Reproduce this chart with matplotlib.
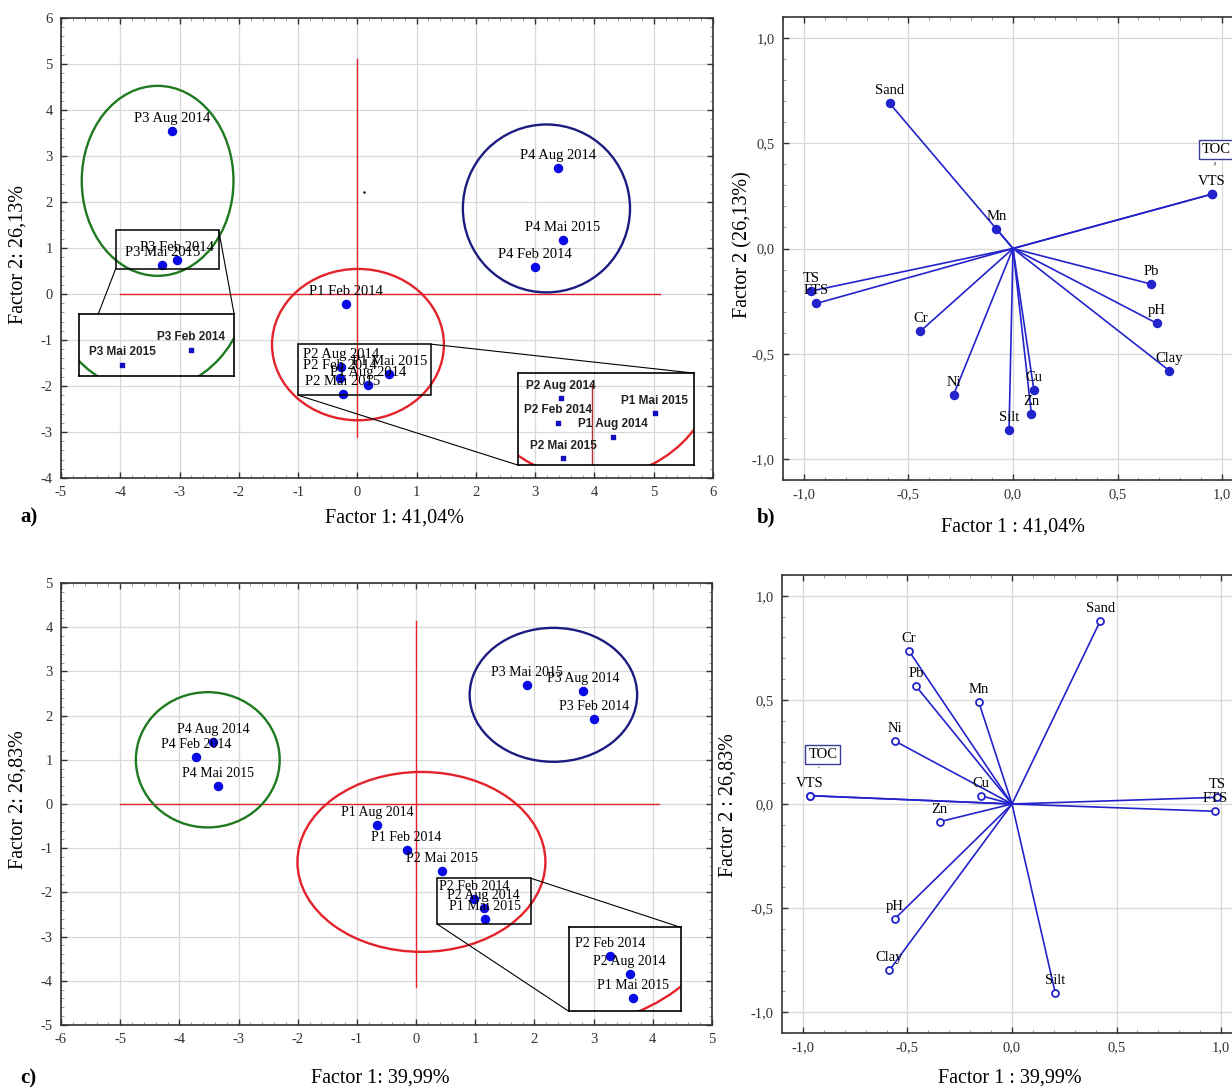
import numpy as np
import matplotlib.pyplot as plt
from matplotlib.patches import Ellipse, Rectangle
from matplotlib.ticker import MultipleLocator, FuncFormatter

plt.rcParams['font.family'] = ['Liberation Serif', 'DejaVu Serif']
plt.rcParams['axes.unicode_minus'] = False

# Factor scores of the samples, first campaign analysis (a)
samples = ['P1 Feb 2014', 'P1 Aug 2014', 'P1 Mai 2015',
           'P2 Feb 2014', 'P2 Aug 2014', 'P2 Mai 2015',
           'P3 Feb 2014', 'P3 Aug 2014', 'P3 Mai 2015',
           'P4 Feb 2014', 'P4 Aug 2014', 'P4 Mai 2015']
f1_a = [-0.20, 0.18, 0.54, -0.30, -0.27, -0.25, -3.05, -3.12, -3.29, 3.00, 3.38, 3.47]
f2_a = [-0.21, -1.97, -1.74, -1.83, -1.59, -2.18, 0.73, 3.55, 0.64, 0.58, 2.73, 1.18]

# Factor scores, second analysis (c)
f1_c = [-0.16, -0.66, 1.17, 0.98, 1.14, 0.44, 3.01, 2.82, 1.88, -3.72, -3.43, -3.34]
f2_c = [-1.05, -0.47, -2.61, -2.15, -2.35, -1.51, 1.93, 2.55, 2.70, 1.06, 1.41, 0.40]

# Variable loadings (b and d)
variables = ['pH', 'TS', 'VTS', 'FTS', 'TOC', 'Sand', 'Silt', 'Clay',
             'Cr', 'Cu', 'Mn', 'Ni', 'Pb', 'Zn']
load1_b = [0.687, -0.964, 0.95, -0.94, 0.95, -0.59, -0.019, 0.747,
           -0.443, 0.10, -0.08, -0.284, 0.66, 0.088]
load2_b = [-0.355, -0.202, 0.258, -0.261, 0.258, 0.69, -0.864, -0.58,
           -0.393, -0.674, 0.094, -0.695, -0.169, -0.787]
load1_d = [-0.561, 0.98, -0.967, 0.971, -0.967, 0.422, 0.207, -0.586,
           -0.494, -0.150, -0.159, -0.561, -0.459, -0.346]
load2_d = [-0.552, 0.032, 0.040, -0.035, 0.040, 0.879, -0.908, -0.798,
           0.737, 0.040, 0.490, 0.303, 0.566, -0.085]

BLUE = '#0a0ae6'
VEC = '#2323cc'
RED = '#e3222a'
GREEN = '#1f7a1f'
NAVY = '#1c1c80'

W, H = 1232, 1090
fig = plt.figure(figsize=(W / 100, H / 100), dpi=100)


def px_axes(left, top, right, bottom):
    return fig.add_axes([left / W, 1 - bottom / H, (right - left) / W, (bottom - top) / H])


ax_a = px_axes(61, 18, 713, 478)
ax_b = px_axes(783, 17, 1243, 480)
ax_c = px_axes(61, 583, 712, 1025)
ax_d = px_axes(782, 575, 1242, 1033)


def comma(v, pos):
    if abs(v) < 1e-9:
        v = 0.0
    return f'{v:.1f}'.replace('.', ',')


def style_axes(ax, major, minor):
    ax.xaxis.set_major_locator(MultipleLocator(major))
    ax.yaxis.set_major_locator(MultipleLocator(major))
    ax.xaxis.set_minor_locator(MultipleLocator(minor))
    ax.yaxis.set_minor_locator(MultipleLocator(minor))
    ax.grid(True, which='major', color='#d8d8d8', lw=0.9)
    ax.set_axisbelow(True)
    ax.tick_params(which='both', direction='in', top=True, right=True)
    ax.tick_params(which='major', length=4, width=1, labelsize=10.5,
                   color='#333333', labelcolor='#333333', pad=6)
    ax.tick_params(which='minor', length=2.2, width=0.7, color='#999999')
    for s in ax.spines.values():
        s.set_color('#333333')
        s.set_linewidth(1.2)


def labels(ax, names, xs, ys, size, dy=9, **kw):
    for name, x, y in zip(names, xs, ys):
        ax.annotate(name, (x, y), xytext=(0, dy), textcoords='offset points',
                    ha='center', va='center', fontsize=size, **kw)


def ellipse(ax, c, w, h, color):
    ax.add_patch(Ellipse(c, w, h, fill=False, edgecolor=color, lw=1.7, zorder=2))


def zoom_inset(ax, box, bounds, xlim, ylim, links):
    ax.add_patch(Rectangle(box[:2], box[2], box[3], fill=False, edgecolor='black',
                           lw=1.1, zorder=4))
    for (x0, y0), (x1, y1) in links:
        ax.plot([x0, x1], [y0, y1], color='black', lw=0.8, zorder=4)
    ins = ax.inset_axes(bounds, transform=ax.transData)
    ins.set_xlim(*xlim)
    ins.set_ylim(*ylim)
    ins.set_xticks([])
    ins.set_yticks([])
    ins.set_facecolor('none')
    for s in ins.spines.values():
        s.set_color('black')
        s.set_linewidth(1.2)
    return ins


# ---------- a) scores ----------
style_axes(ax_a, 1, 0.2)
ax_a.set_xlim(-5, 6)
ax_a.set_ylim(-4, 6)
ax_a.plot([0, 0], [-3.1, 5.1], color=RED, lw=1)
ax_a.plot([-4, 5.1], [0, 0], color=RED, lw=1)
ellipse(ax_a, (-3.37, 2.46), 2.56, 4.13, GREEN)
ellipse(ax_a, (3.19, 1.86), 2.82, 3.65, NAVY)
ellipse(ax_a, (0.01, -1.10), 2.90, 3.29, RED)
ax_a.scatter(f1_a, f2_a, s=34, color=BLUE, zorder=3)
ax_a.plot([0.12], [2.22], 'k.', ms=1.5)
labels(ax_a, samples, f1_a, f2_a, 10.5)

# zoom on P1/P2 cluster
ins = zoom_inset(ax_a, (-1.0, -2.2, 2.24, 1.11), [2.71, -3.72, 2.97, 2.0],
                 (-0.643, 0.878), (-2.247, -1.345),
                 [((1.24, -1.09), (5.68, -1.72)), ((-1.0, -2.2), (2.71, -3.72))])
pick = [1, 2, 3, 4, 5]
xs = [f1_a[i] for i in pick]
ys = [f2_a[i] for i in pick]
ins.axvline(0, ymax=0.88, color='#b03030', lw=1)
ins.add_patch(Ellipse((0.0, -1.2), 2.18, 2.36, fill=False, edgecolor=RED, lw=1.7))
ins.scatter(xs, ys, s=10, marker='s', color='#1010c0', zorder=3)
labels(ins, [samples[i] for i in pick], xs, ys, 8.5, dy=9,
       family=['Liberation Sans'], fontweight='bold', color='#222222')

# zoom on P3 pair
ins = zoom_inset(ax_a, (-4.08, 0.54, 1.74, 0.85), [-4.69, -1.78, 2.61, 1.35],
                 (-3.44, -2.90), (0.575, 0.94),
                 [((-4.08, 0.54), (-4.37, -0.43)), ((-2.34, 1.39), (-2.08, -0.43))])
pick = [6, 8]
xs = [f1_a[i] for i in pick]
ys = [f2_a[i] for i in pick]
ins.add_patch(Ellipse((-3.20, 1.13), 0.70, 1.29, fill=False, edgecolor=GREEN, lw=1.7))
ins.scatter(xs, ys, s=10, marker='s', color='#1010c0', zorder=3)
labels(ins, [samples[i] for i in pick], xs, ys, 8.5, dy=9,
       family=['Liberation Sans'], fontweight='bold', color='#222222')

ax_a.set_xlabel('Factor 1: 41,04%', fontsize=14.5, va='center')
ax_a.xaxis.set_label_coords(0.512, -0.087)
ax_a.set_ylabel('Factor 2: 26,13%', fontsize=14.5, va='center')
ax_a.yaxis.set_label_coords(-0.066, 0.485)

# ---------- c) scores ----------
style_axes(ax_c, 1, 0.2)
ax_c.set_xlim(-6, 5)
ax_c.set_ylim(-5, 5)
ax_c.plot([0, 0], [-4.13, 4.14], color=RED, lw=1)
ax_c.plot([-5, 4.1], [0, 0], color=RED, lw=1)
ellipse(ax_c, (-3.52, 1.0), 2.43, 3.06, GREEN)
ellipse(ax_c, (2.32, 2.47), 2.83, 3.03, NAVY)
ellipse(ax_c, (0.09, -1.31), 4.19, 4.07, RED)
ax_c.scatter(f1_c, f2_c, s=34, color=BLUE, zorder=3)
labels(ax_c, samples, f1_c, f2_c, 10)

ins = zoom_inset(ax_c, (0.36, -2.72, 1.58, 1.04), [2.58, -4.69, 1.89, 1.90],
                 (0.634, 1.565), (-2.757, -1.831),
                 [((1.94, -1.68), (4.47, -2.79)), ((0.36, -2.72), (2.58, -4.69))])
pick = [2, 3, 4]
xs = [f1_c[i] for i in pick]
ys = [f2_c[i] for i in pick]
ins.add_patch(Ellipse((0.5, -1.5), 2.91, 2.89, fill=False, edgecolor=RED, lw=1.7))
ins.scatter(xs, ys, s=34, color=BLUE, zorder=3)
labels(ins, [samples[i] for i in pick], xs, ys, 10)

ax_c.set_xlabel('Factor 1: 39,99%', fontsize=14.5, va='center')
ax_c.xaxis.set_label_coords(0.49, -0.12)
ax_c.set_ylabel('Factor 2: 26,83%', fontsize=14.5, va='center')
ax_c.yaxis.set_label_coords(-0.066, 0.509)


# ---------- b) and d) loadings ----------
def loadings(ax, l1, l2, filled, toc_offset):
    style_axes(ax, 0.5, 0.1)
    ax.set_xlim(-1.1, 1.1)
    ax.set_ylim(-1.1, 1.1)
    ax.xaxis.set_major_formatter(FuncFormatter(comma))
    ax.yaxis.set_major_formatter(FuncFormatter(comma))
    for x, y in zip(l1, l2):
        ax.plot([0, x], [0, y], color=VEC, lw=1.2, zorder=2)
    ax.plot(l1, l2, 'o', ls='none', ms=5.5 if filled else 5,
            color=VEC, mfc=VEC if filled else 'white', mew=1.3, zorder=3)
    for name, x, y in zip(variables, l1, l2):
        if name == 'TOC':
            ax.annotate(name, (x, y), xytext=toc_offset, textcoords='offset points',
                        ha='center', va='center', fontsize=10.5,
                        bbox=dict(boxstyle='square,pad=0.2', fc='white',
                                  ec='#3a3a9a', lw=1),
                        arrowprops=dict(arrowstyle='-', color='#555555', lw=0.8,
                                        shrinkA=2, shrinkB=21))
        else:
            ax.annotate(name, (x, y), xytext=(0, 9), textcoords='offset points',
                        ha='center', va='center', fontsize=10.5)


loadings(ax_b, load1_b, load2_b, True, (3.6, 32))
ax_b.set_xlabel('Factor 1 : 41,04%', fontsize=14.5, va='center')
ax_b.xaxis.set_label_coords(0.5, -0.1015)
ax_b.set_ylabel('Factor 2 (26,13%)', fontsize=14.5, va='center')
ax_b.yaxis.set_label_coords(-0.087, 0.508)

loadings(ax_d, load1_d, load2_d, False, (9.4, 29.5))
ax_d.set_xlabel('Factor 1 : 39,99%', fontsize=14.5, va='center')
ax_d.xaxis.set_label_coords(0.496, -0.098)
ax_d.set_ylabel('Factor 2 : 26,83%', fontsize=14.5, va='center')
ax_d.yaxis.set_label_coords(-0.117, 0.498)

for txt, x, y in [('a)', 20, 517), ('b)', 757, 517), ('c)', 20, 1078)]:
    fig.text(x / W, 1 - y / H, txt, fontsize=15, fontweight='bold', ha='left', va='center')

fig.savefig('out.png', dpi=100)
